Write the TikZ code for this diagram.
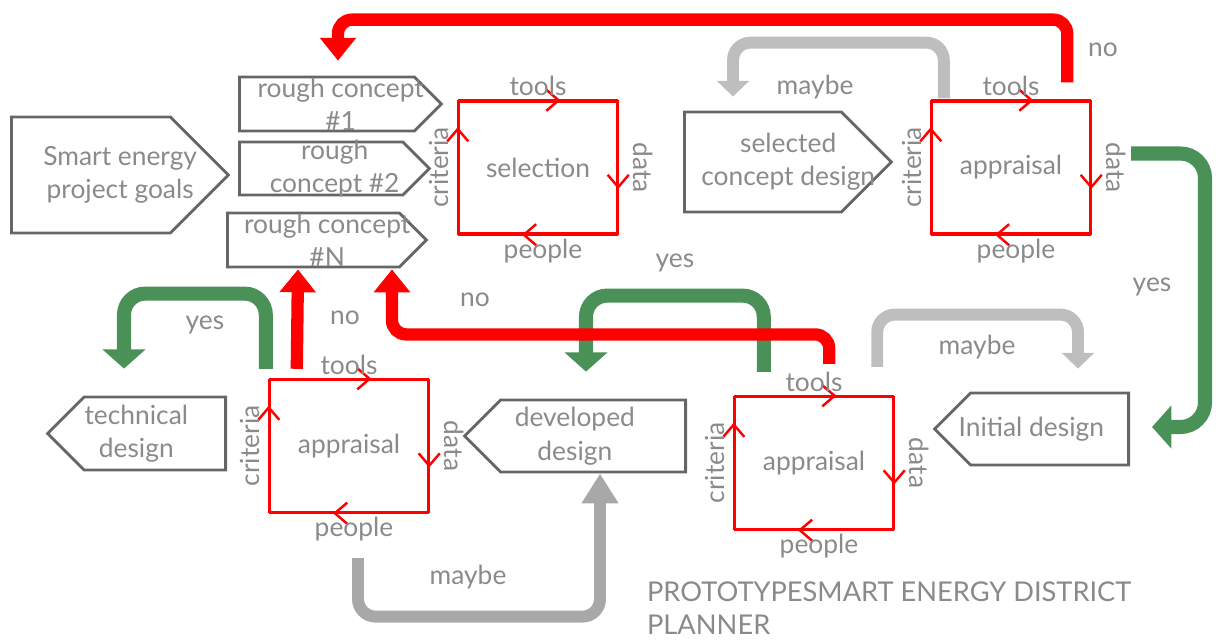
\documentclass[tikz,border=0pt]{standalone}
\usepackage{fontspec}
\setmainfont{Lato}
\usetikzlibrary{arrows.meta,calc,positioning,shapes.symbols,decorations.markings}

\definecolor{inkgray}{HTML}{8A8A8A}
\definecolor{edgegray}{HTML}{666666}
\definecolor{okgreen}{HTML}{4A9157}
\definecolor{maybegray}{HTML}{BEBEBE}
\definecolor{maybedark}{HTML}{A8A8A8}

\tikzset{
  txt/.style={text=inkgray, font=\fontsize{15}{19}\selectfont, align=center, inner sep=1pt},
  panel/.style={signal, signal pointer angle=90, draw=edgegray, line width=1.6pt,
    inner sep=0pt},
  cyc/.style={draw=red, line width=1.4pt, minimum width=3.16cm, minimum height=2.64cm, txt},
  side/.style={draw=red, line width=1.4pt,
    decoration={markings, mark=at position #1 with {\arrow{Straight Barb[length=7pt,width=12pt,line width=1.4pt]}}},
    postaction={decorate}},
  nofat/.style={draw=red, line width=7pt, rounded corners=8pt,
    -{Triangle[length=13pt,width=20pt]}},
  yesfat/.style={draw=okgreen, line width=8pt, rounded corners=12pt,
    -{Triangle[length=11pt,width=24pt]}},
  maybefat/.style={draw=maybegray, line width=6.8pt, rounded corners=10pt,
    -{Triangle[length=9pt,width=18pt]}}
}

\begin{document}
\begin{tikzpicture}[x=0.02cm, y=-0.02cm]
\useasboundingbox (0,0) rectangle (1216,640);

% goals and rough concepts
\node[panel, signal to=east, anchor=west, minimum width=4.34cm, minimum height=2.32cm] (goals) at (10,175) {};
\node[txt] (goalst) at ($(goals.west)!0.5!(goals.east)$) {Smart energy\\project goals};
\node[panel, signal to=east, anchor=west, minimum width=4.04cm, minimum height=1.08cm] (rc1) at (238,104) {};
\node[txt] (rc1t) at ($(rc1.west)!0.5!(rc1.east)$) {rough concept\\\#1};
\node[panel, signal to=east, anchor=west, minimum width=3.8cm, minimum height=1.06cm] (rc2) at (238,168.5) {};
\node[txt] (rc2t) at ($(rc2.west)!0.5!(rc2.east)$) {rough\\concept \#2};
\node[panel, signal to=east, anchor=west, minimum width=3.98cm, minimum height=1.08cm] (rcN) at (226,240) {};
\node[txt] (rcNt) at ($(rcN.west)!0.5!(rcN.east)$) {rough concept\\\#N};

% designs
\node[panel, signal to=east, anchor=west, minimum width=4.14cm, minimum height=2cm] (csel) at (683,162) {};
\node[txt] (cselt) at ($(csel.west)!0.5!(csel.east)$) {selected\\concept design};
\node[panel, signal to=west, anchor=east, minimum width=3.56cm, minimum height=1.46cm] (tech) at (227,433.5) {};
\node[txt] (techt) at ($(tech.west)!0.5!(tech.east)$) {technical\\design};
\node[panel, signal to=west, anchor=east, minimum width=4.42cm, minimum height=1.44cm] (dev) at (687,436) {};
\node[txt] (devt) at ($(dev.west)!0.5!(dev.east)$) {developed\\design};
\node[panel, signal to=west, anchor=east, minimum width=3.88cm, minimum height=1.44cm] (init) at (1130,429) {};
\node[txt] (initt) at ($(init.west)!0.5!(init.east)$) {Initial design};

% selection and appraisal cycles
\node[cyc] (sel) at (538,167.5) {selection};
\node[cyc] (aprA) at (1011,167.5) {appraisal};
\node[cyc] (aprB) at (814,463) {appraisal};
\node[cyc] (aprC) at (349,446) {appraisal};

\foreach \b in {sel,aprA,aprB,aprC} {
  \draw[side=0.64] (\b.north west) -- (\b.north east);
  \draw[side=0.66] (\b.north east) -- (\b.south east);
  \draw[side=0.6] (\b.south east) -- (\b.south west);
  \draw[side=0.8] (\b.south west) -- (\b.north west);
  \node[txt, anchor=south] (\b tools) at ($(\b.north)+(0,-2)$) {tools};
  \node[txt, anchor=north] (\b people) at ($(\b.south)+(5,2)$) {people};
  \node[txt, rotate=-90, anchor=south] (\b data) at ($(\b.east)+(13,0)$) {data};
  \node[txt, rotate=90, anchor=south] (\b criteria) at ($(\b.west)+(-7,0)$) {criteria};
}

% decisions
\draw[yesfat, rounded corners=14pt] ($(aprA.east)+(40,-14)$) -| ($(init.east)+(75,-2)$) -- ($(init.east)+(22,-2)$);
\draw[maybefat] ($(aprA.north west)+(13,-2)$) |- ($(csel.north west)+(50,-68)$) -- ($(csel.north west)+(50,-14)$);
\draw[nofat] ($(aprA.north east)+(-24,-18)$) |- ($(rc1.north west)+(100,-56)$) -- ($(rc1.north west)+(100,-15)$);

\draw[maybefat] ($(aprB.north east)+(-17,-29)$) |- ($(init.north east)+(-52,-77)$) -- ($(init.north east)+(-52,-23)$);
\draw[yesfat] ($(aprB.north west)+(30,-24)$) |- ($(dev.north east)+(-101,-103)$) -- ($(dev.north east)+(-101,-27)$);
\draw[nofat] ($(aprB.north east)+(-65,-32)$) |- ($(rcN.south west)+(166,66)$) -- ($(rcN.south west)+(166,1)$);

\draw[yesfat] ($(aprC.north west)+(-3,-10)$) |- ($(tech.north east)+(-103,-102)$) -- ($(tech.north east)+(-103,-27)$);
\draw[nofat] ($(aprC.north west)+(28,-10)$) -- ($(rcN.south west)+(72,1)$);
\draw[maybefat, draw=maybedark, -{Triangle[length=17pt,width=20pt]}] ($(aprC.south)+(9,45)$) |- ($(dev.south east)+(-87,146)$) -- ($(dev.south east)+(-87,3)$);

% answers
\node[txt] (no1) at (1103,50) {no};
\node[txt] (maybe1) at (815,87) {maybe};
\node[txt] (yes1) at (1152,287) {yes};
\node[txt] (maybe2) at (977,347) {maybe};
\node[txt] (yes2) at (675,263) {yes};
\node[txt] (no2) at (475,300) {no};
\node[txt] (yes3) at (205,325) {yes};
\node[txt] (no3) at (345,318) {no};
\node[txt] (maybe3) at (468,577) {maybe};

\node[txt, align=left, anchor=west, font=\fontsize{15.5}{19}\selectfont] (title) at (645,608) {PROTOTYPESMART ENERGY DISTRICT\\PLANNER};
\end{tikzpicture}
\end{document}
